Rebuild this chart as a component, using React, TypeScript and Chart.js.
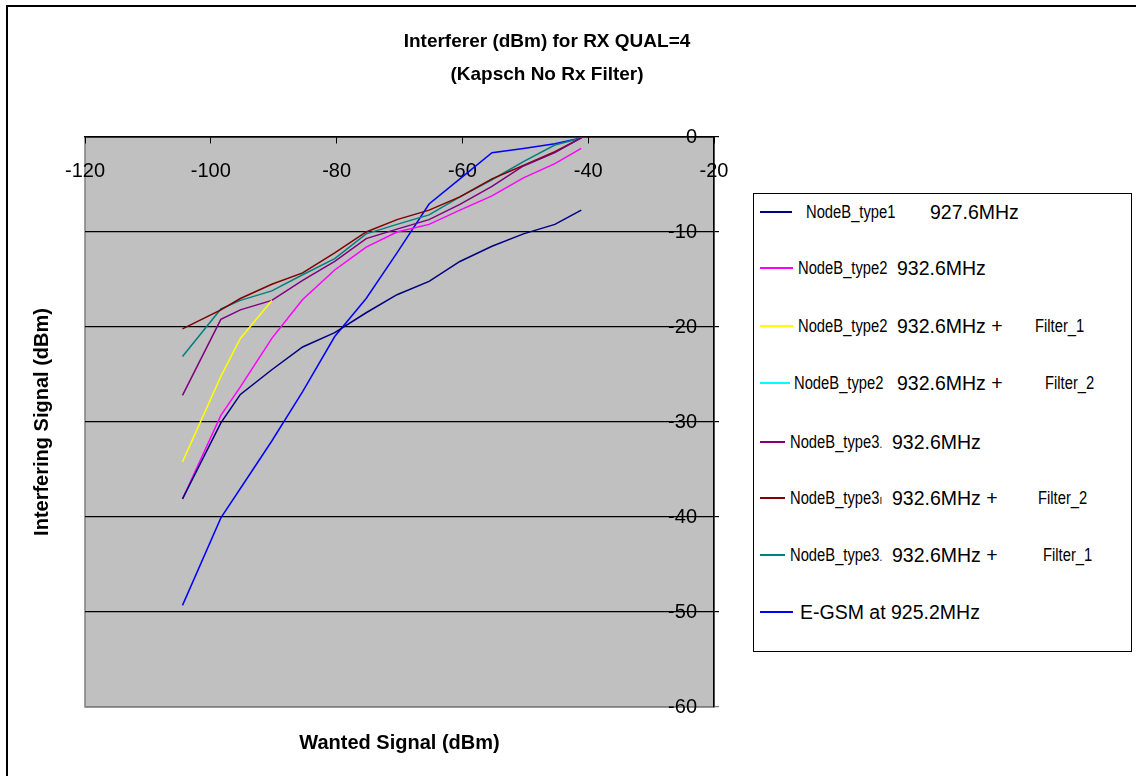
import React, { useEffect, useRef } from 'react';
import { Chart, registerables } from 'chart.js';

Chart.register(...registerables);

// ---- data ----
const wantedSignal = [-104.5, -98.4, -95.3, -90.3, -85.4, -80.3, -75.3, -70.4, -65.3, -60.4, -55.3, -50.3, -45.3, -41.1];

const nodeB1_927 = [-38.1, -30.1, -27.1, -24.5, -22.1, -20.6, -18.5, -16.6, -15.2, -13.1, -11.5, -10.2, -9.2, -7.7];
const nodeB2_932 = [-38.1, -29.3, -26.3, -21.2, -17.1, -14.0, -11.6, -10.0, -9.2, -7.7, -6.2, -4.3, -2.8, -1.2];
const nodeB2_932_f1 = [-34.2, -25.2, -21.2, -17.2, null, null, null, null, null, null, null, null, null, null];
const nodeB2_932_f2: (number | null)[] = [null, null, null, null, null, null, null, null, null, null, null, null, null, null];
const nodeB3_932 = [-27.2, -19.2, -18.2, -17.2, -15.1, -13.1, -10.7, -9.7, -8.7, -7.1, -5.2, -3.05, -1.65, -0.1];
const nodeB3_932_f2 = [-20.2, -18.2, -17.0, -15.5, -14.3, -12.2, -10.0, -8.7, -7.7, -6.3, -4.4, -3.0, -1.55, -0.1];
const nodeB3_932_f1 = [-23.1, -18.1, -17.2, -16.2, -14.5, -12.8, -10.2, -9.2, -8.2, -6.3, -4.5, -2.6, -0.85, -0.1];
const egsm_925 = [-49.3, -40.1, -37.0, -32.0, -26.8, -21.0, -17.0, -12.2, -7.05, -4.4, -1.65, -1.2, -0.7, -0.1];

const seriesValues = [nodeB1_927, nodeB2_932, nodeB2_932_f1, nodeB2_932_f2, nodeB3_932, nodeB3_932_f2, nodeB3_932_f1, egsm_925];
const seriesNames = ['NodeB_type1', 'NodeB_type2', 'NodeB_type2', 'NodeB_type2', 'NodeB_type3', 'NodeB_type3', 'NodeB_type3', ''];
const seriesNameTails = ['', '', '', '', '.', 'ı', '.', ''];
const seriesFreqs = ['927.6MHz', '932.6MHz', '932.6MHz +', '932.6MHz +', '932.6MHz', '932.6MHz +', '932.6MHz +', 'E-GSM at 925.2MHz'];
const seriesFilters = ['', '', 'Filter_1', 'Filter_2', '', 'Filter_2', 'Filter_1', ''];

const xMin = -120;
const xMax = -20;
const xStep = 20;
const yMin = -60;
const yMax = 0;
const yStep = 10;

const titleLines = ['Interferer (dBm) for RX QUAL=4', '(Kapsch No Rx Filter)'];
const xTitle = 'Wanted Signal (dBm)';
const yTitle = 'Interfering Signal (dBm)';

// ---- styles ----
const seriesColors = ['#000080', '#ff00ff', '#ffff00', '#00ffff', '#800080', '#800000', '#008080', '#0000ff'];
const legendRowY = [211.7, 268.3, 325.7, 383.3, 441.7, 498.3, 555, 611.7];
const legendLineLen = [32, 33, 33, 30, 25, 25, 25, 33];
const legendNameX = [806, 798, 798, 794, 790, 790, 790, 0];
const legendFreqX = [930, 897, 897, 897, 892, 892, 892, 800];
const legendFilterX = [0, 0, 1035, 1045, 0, 1038, 1043, 0];

const FONT = '"Liberation Sans", Arial, sans-serif';

export default function App() {
  const ref = useRef<HTMLCanvasElement>(null);

  useEffect(() => {
    if (!ref.current) return;
    Chart.defaults.font.family = FONT;
    Chart.defaults.color = '#000';

    const plotBg = {
      id: 'plotBg',
      beforeDraw(chart: any) {
        const { ctx, chartArea: a } = chart;
        ctx.save();
        ctx.fillStyle = '#c0c0c0';
        ctx.fillRect(a.left, a.top, a.right - a.left, a.bottom - a.top);
        ctx.strokeStyle = '#808080';
        ctx.lineWidth = 1.5;
        ctx.strokeRect(a.left, a.top, a.right - a.left, a.bottom - a.top);
        ctx.restore();
      },
    };

    const datasets = seriesValues.map((vals, i) => ({
      label: `${seriesNames[i]} ${seriesFreqs[i]} ${seriesFilters[i]}`.trim(),
      data: wantedSignal.map((x, j) => ({ x, y: vals[j] })),
      borderColor: seriesColors[i],
      backgroundColor: seriesColors[i],
      borderWidth: 1.5,
      pointRadius: 0,
      fill: false,
      tension: 0,
      spanGaps: false,
      xAxisID: 'x',
      yAxisID: 'y',
    }));

    const chart = new Chart(ref.current, {
      type: 'line',
      data: { datasets: datasets as any },
      options: {
        animation: false,
        responsive: false,
        maintainAspectRatio: false,
        layout: { padding: 0 },
        plugins: {
          legend: { display: false },
          tooltip: { enabled: false },
          title: {
            display: true,
            text: titleLines,
            color: '#000',
            font: { family: FONT, size: 19, weight: 'bold', lineHeight: 33 / 19 },
            padding: { top: 25.5, bottom: 45.5 },
          },
        },
        scales: {
          x: {
            type: 'linear',
            position: { y: 0 } as any,
            min: xMin,
            max: xMax,
            ticks: { stepSize: xStep, font: { size: 20 }, color: '#000', padding: 16, maxRotation: 0 },
            grid: { drawOnChartArea: false, drawTicks: true, tickLength: 6, color: '#000' },
            border: { display: true, color: '#000', width: 1.5 },
          },
          y: {
            type: 'linear',
            position: 'right',
            min: yMin,
            max: yMax,
            ticks: { stepSize: yStep, mirror: true, padding: -17, font: { size: 20 }, color: '#000' },
            grid: {
              color: (c: any) => (c.tick && c.tick.value === yMin ? '#808080' : '#000'),
              lineWidth: 1.2,
              drawTicks: true,
              tickLength: 5,
            },
            border: { display: true, color: '#000', width: 1.5 },
            afterFit: (s: any) => { s.width = 380; },
          },
          yLeft: {
            type: 'linear',
            position: 'left',
            min: yMin,
            max: yMax,
            ticks: { display: false },
            grid: { display: false },
            border: { display: false },
            title: { display: true, text: yTitle, color: '#000', font: { size: 20, weight: 'bold' }, padding: { top: 30, bottom: 0 } },
            afterFit: (s: any) => { s.width = 85; },
          },
          xBottom: {
            type: 'linear',
            position: 'bottom',
            min: xMin,
            max: xMax,
            ticks: { display: false },
            grid: { display: false },
            border: { display: false },
            title: { display: true, text: xTitle, color: '#000', font: { size: 20, weight: 'bold' }, padding: { top: 0, bottom: 20.5 } },
            afterFit: (s: any) => { s.height = 69; },
          },
        } as any,
      },
      plugins: [plotBg],
    });
    return () => chart.destroy();
  }, []);

  const rowH = 26;
  const narrow: React.CSSProperties = {
    position: 'absolute',
    height: rowH,
    lineHeight: `${rowH}px`,
    fontFamily: FONT,
    fontSize: 18,
    whiteSpace: 'nowrap',
    color: '#000',
    transform: 'scaleX(0.82)',
    transformOrigin: 'left center',
  };
  return (
    <div style={{ position: 'absolute', left: 0, top: 0, width: 1136, height: 776, overflow: 'hidden', background: '#fff', fontFamily: FONT }}>
      <canvas ref={ref} width={1094} height={776} style={{ position: 'absolute', left: 0, top: 0, width: 1094, height: 776 }} />
      <div style={{ position: 'absolute', left: 6, top: 5, width: 1200, height: 800, borderLeft: '2px solid #000', borderTop: '2px solid #000', pointerEvents: 'none' }} />
      <div style={{ position: 'absolute', left: 752.5, top: 193.3, width: 379, height: 459, border: '1px solid #000', boxSizing: 'border-box', background: '#fff' }} />
      {seriesFreqs.map((f, i) => (
        <React.Fragment key={i}>
          <div style={{ position: 'absolute', left: 760, top: legendRowY[i] - 1, width: legendLineLen[i], height: 2, background: seriesColors[i] }} />
          {seriesNames[i] && (
            <div style={{ ...narrow, left: legendNameX[i], top: legendRowY[i] - rowH / 2 }}>
              {seriesNames[i]}{seriesNameTails[i] && <span style={{ fontSize: 12 }}>{seriesNameTails[i]}</span>}
            </div>
          )}
          <div style={{ position: 'absolute', left: legendFreqX[i], top: legendRowY[i] - rowH / 2, height: rowH, lineHeight: `${rowH}px`, fontFamily: FONT, fontSize: 19.5, whiteSpace: 'nowrap', color: '#000' }}>
            {f}
          </div>
          {seriesFilters[i] && (
            <div style={{ ...narrow, left: legendFilterX[i], top: legendRowY[i] - rowH / 2 }}>
              {seriesFilters[i]}
            </div>
          )}
        </React.Fragment>
      ))}
    </div>
  );
}
